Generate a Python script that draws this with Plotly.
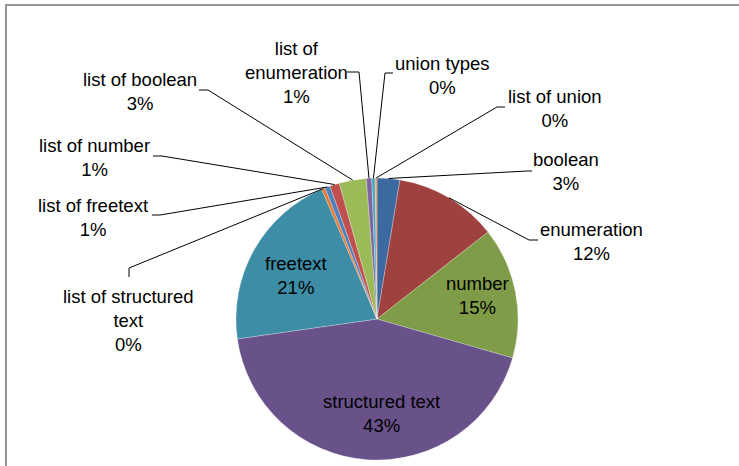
import math
import plotly.graph_objects as go

# ---------------- data ----------------
categories = ["boolean", "enumeration", "number", "structured text", "freetext",
              "list of structured text", "list of freetext", "list of number",
              "list of boolean", "list of enumeration", "union types", "list of union"]
values = [2.6, 11.8, 15.0, 43.2, 20.8, 0.4, 0.6, 1.1, 3.1, 0.6, 0.4, 0.2]
display_names = ["boolean", "enumeration", "number", "structured text", "freetext",
                 "list of structured<br>text", "list of freetext", "list of number",
                 "list of boolean", "list of<br>enumeration", "union types", "list of union"]

# ---------------- styles / layout ----------------
colors = ["#3C69A0", "#9F413E", "#7F9C48", "#69518A", "#3D8DA6",
          "#E8792A", "#4F81BD", "#C0504D", "#9BBB59", "#8064A2", "#4BACC6", "#F79646"]

W, H = 739, 466
CX, CY, R = 377, 319, 141          # pie centre / radius in pixels
FONT = dict(family="Liberation Sans, Arial, sans-serif", size=18.5, color="#000000")

# label block centres (pixels)
label_pos = {
    "boolean": (566, 171.5),
    "enumeration": (591.5, 241.5),
    "number": (477, 295),
    "structured text": (381, 413),
    "freetext": (296, 275),
    "list of structured text": (128, 320),
    "list of freetext": (93, 217),
    "list of number": (94, 157),
    "list of boolean": (140, 91.5),
    "list of enumeration": (296, 72),
    "union types": (442, 75),
    "list of union": (555, 109),
}
# leader line: label end point, elbow point (pixels)
leader = {
    "boolean": [(532, 171), (527, 171)],
    "enumeration": [(538, 240), (529, 240)],
    "list of structured text": [(129, 277), (129, 268)],
    "list of freetext": [(152, 215), (160, 215)],
    "list of number": [(153, 156), (162, 156)],
    "list of boolean": [(199, 90), (208, 90)],
    "list of enumeration": [(347, 72), (359, 72)],
    "union types": [(393, 73), (385, 73)],
    "list of union": [(505, 107), (497, 107)],
}


def px(x):
    return x / W


def py(y):
    return 1 - y / H


fig = go.Figure()
fig.add_trace(go.Pie(
    labels=categories, values=values, sort=False, direction="clockwise", rotation=0,
    marker=dict(colors=colors, line=dict(color="rgba(255,255,255,0.5)", width=0.5)),
    textinfo="none", hoverinfo="label+percent", showlegend=False,
    domain=dict(x=[px(CX - R), px(CX + R)], y=[py(CY + R), py(CY - R)]),
))

total = sum(values)
cum = 0.0
annotations = []
shapes = []
for cat, name, v in zip(categories, display_names, values):
    a0 = cum / total * 360
    cum += v
    a1 = cum / total * 360
    mid = math.radians((a0 + a1) / 2)
    ex = CX + R * math.sin(mid)
    ey = CY - R * math.cos(mid)
    pct = round(v / total * 100)
    lx, ly = label_pos[cat]
    annotations.append(dict(
        x=px(lx), y=py(ly), xref="paper", yref="paper", showarrow=False,
        text=f"{name}<br>{pct}%", xanchor="center", yanchor="middle",
        align="center", font=FONT,
    ))
    if cat in leader:
        (x1, y1), (x2, y2) = leader[cat]
        path = f"M {px(x1)} {py(y1)} L {px(x2)} {py(y2)} L {px(ex)} {py(ey)}"
        shapes.append(dict(type="path", path=path, xref="paper", yref="paper",
                           line=dict(color="#000000", width=1)))

# chart-area border (top and left edges visible)
shapes.append(dict(type="line", xref="paper", yref="paper",
                   x0=px(5), y0=py(5), x1=px(W + 5), y1=py(5),
                   line=dict(color="#959595", width=2)))
shapes.append(dict(type="line", xref="paper", yref="paper",
                   x0=px(6), y0=py(4), x1=px(6), y1=py(H + 5),
                   line=dict(color="#959595", width=2)))

fig.update_layout(
    width=W, height=H, autosize=False,
    margin=dict(l=0, r=0, t=0, b=0),
    paper_bgcolor="white", plot_bgcolor="white",
    annotations=annotations, shapes=shapes, font=FONT,
)

fig.write_html("out.html", config={"displayModeBar": False},
               post_script="document.body.style.margin='0px';")
